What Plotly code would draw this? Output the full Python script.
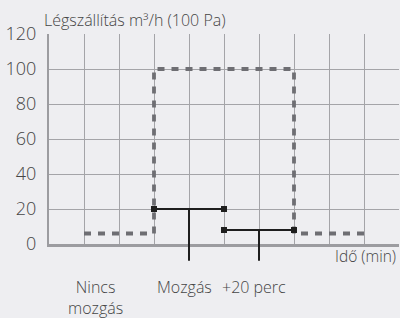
import plotly.graph_objects as go

# ---- data ----
airflow_x = [1, 3, 3, 7, 7, 9.1]
airflow_y = [6, 6, 100, 100, 6, 6]

motion_x = [3, 5]
motion_y = [20, 20]
after_x = [5, 7]
after_y = [8, 8]

tick_x = [4, 6]
tick_top = [20, 8]
tick_bottom = -9.5

event_labels = ["Nincs<br>mozgás", "Mozgás", "+20 perc"]
event_label_x = [1.32, 3.88, 5.85]

y_title = "Légszállítás m³/h (100 Pa)"
x_title = "Idő (min)"

x_range = [0, 10]
y_range = [0, 120]
y_ticks = [0, 20, 40, 60, 80, 100, 120]

BG = "#eeeef1"
TXT = "#454545"
FONT = "Open Sans"
W = 300

fig = go.Figure()

fig.add_trace(go.Scatter(
    x=airflow_x, y=airflow_y, mode="lines",
    line=dict(color="#6e6e73", width=3.8, dash="7px,7px"),
    showlegend=False, hoverinfo="skip"))

for xs, ys in [(motion_x, motion_y), (after_x, after_y)]:
    fig.add_trace(go.Scatter(
        x=xs, y=ys, mode="lines+markers",
        line=dict(color="#1e1e1e", width=2),
        marker=dict(symbol="square", size=6, color="#1e1e1e"),
        showlegend=False, hoverinfo="skip", cliponaxis=False))


def to_paper(v):
    return (v - y_range[0]) / (y_range[1] - y_range[0])


shapes = []
for tx, tt in zip(tick_x, tick_top):
    shapes.append(dict(type="line", xref="x", yref="paper",
                       x0=tx, x1=tx, y0=to_paper(tt), y1=to_paper(tick_bottom),
                       line=dict(color="#1e1e1e", width=2)))

annotations = [
    dict(text=y_title, xref="paper", yref="paper", x=0, y=1,
         xanchor="left", yanchor="middle", xshift=-7, yshift=14,
         showarrow=False, font=dict(family=FONT, size=16, color=TXT, weight=W)),
    dict(text=x_title, xref="x", yref="paper", x=x_range[1], y=0,
         xanchor="right", yanchor="middle", xshift=-1, yshift=-12,
         showarrow=False, font=dict(family=FONT, size=15.5, color=TXT, weight=W)),
]
for lab, lx in zip(event_labels, event_label_x):
    annotations.append(dict(text=lab, xref="x", yref="paper", x=lx, y=0,
                            xanchor="center", yanchor="top", yshift=-30,
                            showarrow=False, align="center",
                            font=dict(family=FONT, size=16, color=TXT, weight=W)))

fig.update_layout(
    width=400, height=318,
    margin=dict(l=49, r=1, t=34, b=74),
    paper_bgcolor=BG, plot_bgcolor=BG,
    shapes=shapes, annotations=annotations,
    xaxis=dict(range=x_range, dtick=1, showticklabels=False,
               showgrid=True, gridcolor="#a4a4a8", gridwidth=1.3,
               showline=True, linecolor="#9c9ca0", linewidth=2.5,
               zeroline=False, ticks="", fixedrange=True),
    yaxis=dict(range=y_range, tickvals=y_ticks,
               showgrid=True, gridcolor="#a4a4a8", gridwidth=1.3,
               showline=True, linecolor="#9c9ca0", linewidth=2,
               zeroline=False, ticks="", ticklabelstandoff=7,
               tickfont=dict(family=FONT, size=18, color=TXT, weight=W),
               fixedrange=True),
)

fig.write_html("out.html", config={"displayModeBar": False},
               post_script="document.body.style.margin='0';"
                           "document.body.style.background='" + BG + "';")
